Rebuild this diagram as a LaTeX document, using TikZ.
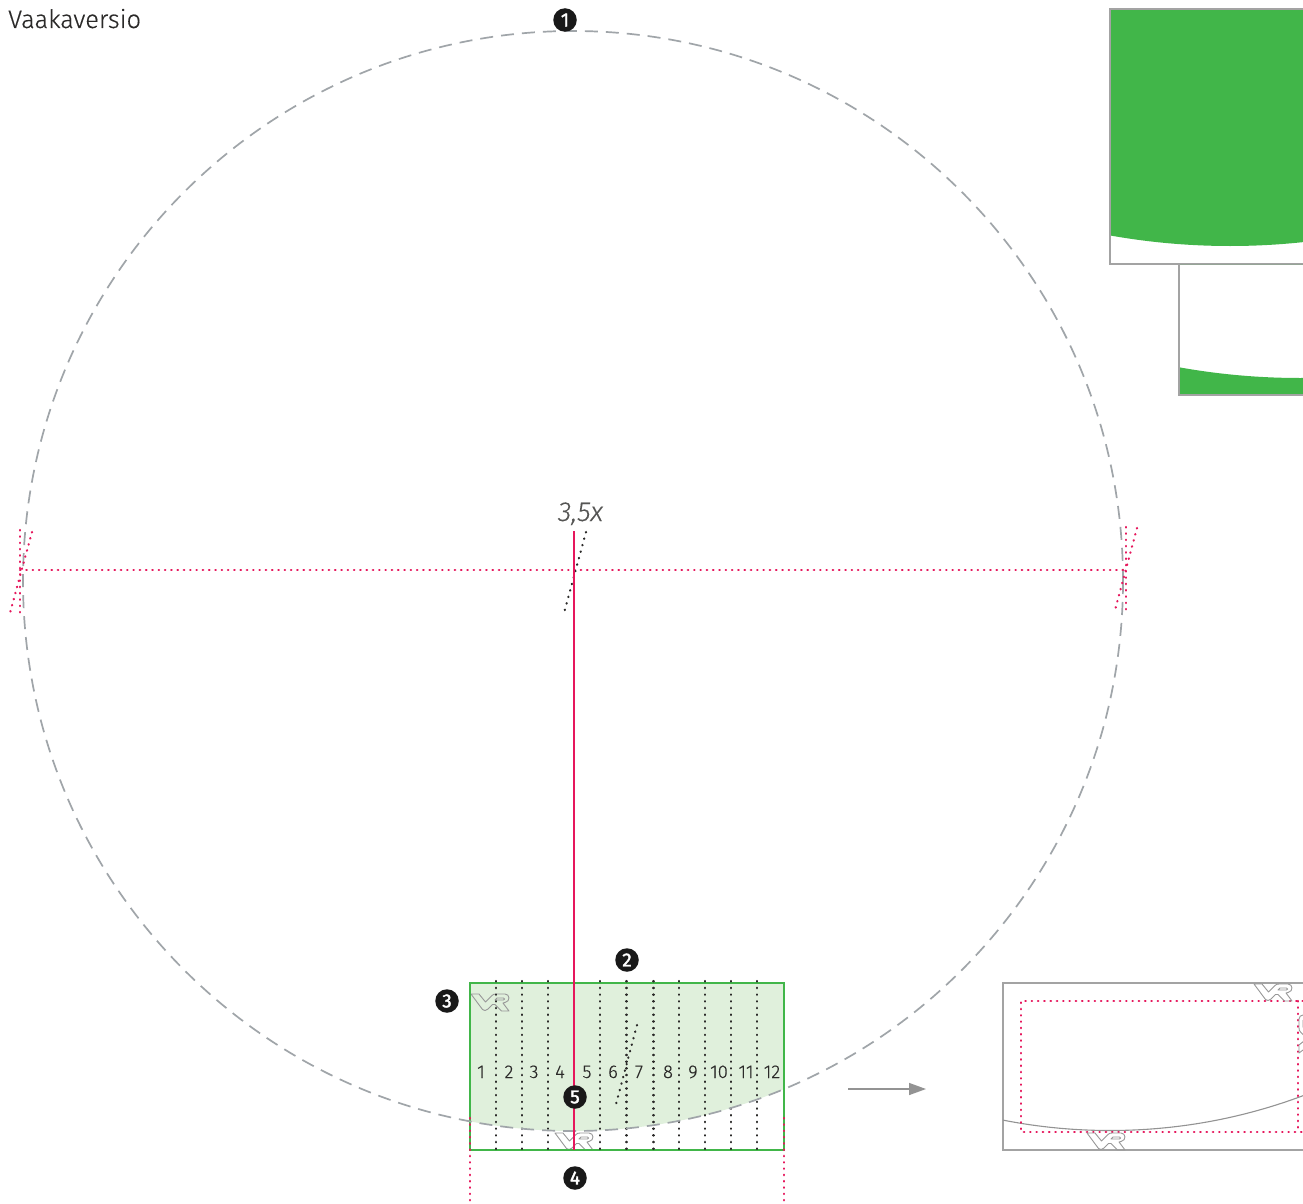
\documentclass[tikz,border=0pt]{standalone}
\usepackage{fontspec}
\setmainfont{Fira Sans Light}[FakeBold=0.3]
\newfontfamily\badgefont{Fira Sans}[FakeBold=2]
\usetikzlibrary{arrows.meta}
\definecolor{ringgray}{HTML}{A0A5A9}
\definecolor{boxgray}{HTML}{A3A3A3}
\definecolor{logogray}{HTML}{989898}
\definecolor{vrgreen}{HTML}{41B649}
\definecolor{palegreen}{HTML}{E0F0DC}
\definecolor{magent}{HTML}{E6175C}
\definecolor{inkdark}{HTML}{2B2A29}
\tikzset{
  x=1pt,y=-1pt,
  ring/.style={draw=ringgray,line width=1.7pt,dash pattern=on 13pt off 8pt},
  reddots/.style={draw=magent,line width=2.2pt,line cap=round,dash pattern=on .5pt off 5.8pt},
  blackdots/.style={draw=inkdark,line width=2.2pt,line cap=round,dash pattern=on .5pt off 6.2pt},
  badge/.style={circle,fill=black!90,text=white,inner sep=0pt,minimum size=23.5pt,font=\badgefont\fontsize{19}{19}\selectfont},
  numlabel/.style={text=inkdark,inner sep=0pt,font=\fontsize{18.5}{19}\selectfont},
  framebox/.style={draw=boxgray,line width=1.3pt},
  vrlogo/.pic={
    \draw[draw=logogray,line width=.9pt,line join=round]
      (0,0) -- (8,0) -- (14.5,8) -- (21,1.5) .. controls (22,.5) and (23,0) .. (25,0)
      -- (34,0) .. controls (39,0) and (39.5,7.5) .. (34,8.5) -- (32,9) -- (38,17) -- (30.5,17)
      -- (24,10.5) -- (21.5,10.5) -- (17,15) .. controls (15,17) and (13,17) .. (11.5,15.5) -- cycle
      (26,4) -- (32.5,4) .. controls (34,4) and (34,6) .. (32.5,6) -- (24,6) -- cycle;
  }
}
\begin{document}
\begin{tikzpicture}
\useasboundingbox (0,0) rectangle (1303,1204);
\fill[white] (0,0) rectangle (1303,1204);
% top-right samples
\begin{scope}
  \clip (1109,9) rectangle (1303,264);
  \fill[vrgreen] (1230,-434) circle (680);
\end{scope}
\draw[framebox] (1303,9) -- (1110,9) -- (1110,264) -- (1303,264);
\begin{scope}
  \clip (1179,264) rectangle (1303,395);
  \fill[vrgreen,even odd rule] (1179,264) rectangle (1303,395) (1300,-302) circle (680);
\end{scope}
\draw[framebox] (1179,264) -- (1179,395) -- (1303,395);
% green area
\begin{scope}
  \clip (573,581) circle (550);
  \fill[palegreen] (470,983) rectangle (784,1150);
\end{scope}
\pic at (471,994) {vrlogo};
\pic at (555,1133) {vrlogo};
\draw[draw=vrgreen,line width=1.2pt] (470,983) rectangle (784,1150);
% dotted columns
\foreach \cx in {496,522,548,600,626.5,653.5,679,705,731,757}
  \draw[blackdots] (\cx,981) -- (\cx,1151);
\draw[blackdots] (637,1025) -- (615,1108);
\draw[reddots] (470,1118) -- (470,1204);
\draw[reddots] (784,1118) -- (784,1204);
% ring
\draw[ring] (573,581) circle (550);
% axes
\draw[reddots] (20,570) -- (1126,570);
\draw[reddots] (20,530) -- (20,615);
\draw[reddots] (32,532) -- (10,613);
\draw[reddots] (1126,527) -- (1126,612);
\draw[reddots] (1137,528) -- (1115,610);
\draw[blackdots] (586,532) -- (564,613);
\draw[draw=magent,line width=1.8pt] (574,531) -- (574,1150);
% column numbers
\foreach \cx/\t in {481/1,509/2,534/3,560/4,587/5,613/6,639/7,668/8,693/9,719/10,746/11,772/12}
  \node[numlabel,anchor=base] at (\cx,1078) {\t};
\node[anchor=base west,inner sep=0pt,text=inkdark,font=\fontsize{25.4}{26}\selectfont] (title) at (8,28) {Vaakaversio};
\node[anchor=base,inner sep=0pt,text=inkdark!80,font=\fontsize{27.5}{28}\selectfont\itshape] (factor) at (580.5,521) {3,5x};
% badges
\node[badge] (b1) at (565,20) {1};
\node[badge] (b2) at (627,960) {2};
\node[badge] (b3) at (447,1001) {3};
\node[badge] (b4) at (575,1178) {4};
\node[badge] (b5) at (575,1097) {5};
% arrow
\coordinate (arrowfrom) at (848,1089);
\coordinate (arrowto) at (926,1089);
\draw[draw=boxgray!90!black,line width=1.4pt,-{Triangle[length=17pt,width=12pt]}] (arrowfrom) -- (arrowto);
% right frame
\draw[framebox] (1303,983) -- (1003,983) -- (1003,1150) -- (1303,1150);
\begin{scope}
  \clip (1003,983) rectangle (1303,1150);
  \draw[draw=boxgray!90!black,line width=1.1pt] (1110,580.5) circle (550);
\end{scope}
\draw[reddots] (1303,1001) -- (1021,1001) -- (1021,1132) -- (1303,1132);
\draw[reddots] (1298,1001) -- (1298,1132);
\pic at (1254,984) {vrlogo};
\pic at (1087,1133) {vrlogo};
\pic[rotate=90] at (1299,1053) {vrlogo};
\end{tikzpicture}
\end{document}
